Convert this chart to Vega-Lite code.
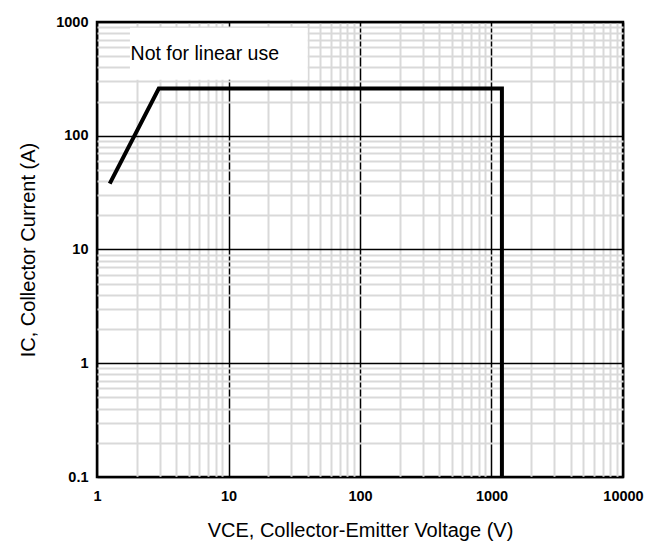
{
  "$schema": "https://vega.github.io/schema/vega-lite/v6.json",
  "width": 526,
  "height": 455,
  "autosize": "none",
  "padding": {"left": 97, "top": 22, "right": 38, "bottom": 74},
  "background": "white",
  "config": {
    "font": "Liberation Sans",
    "view": {"stroke": "black", "strokeWidth": 2.5}
  },
  "datasets": {
    "soa": [
      {"i": 1, "vce": 1.25, "ic": 38},
      {"i": 2, "vce": 2.95, "ic": 260},
      {"i": 3, "vce": 1200, "ic": 260},
      {"i": 4, "vce": 1200, "ic": 0.1}
    ],
    "note": [
      {"x1": 1.78, "x2": 40, "y1": 310, "y2": 890, "tx": 1.8, "ty": 520, "label": "Not for linear use"}
    ]
  },
  "layer": [
    {
      "data": {"name": "soa"},
      "mark": {"type": "line", "color": "black", "strokeWidth": 4, "strokeCap": "butt", "strokeJoin": "miter", "clip": true},
      "encoding": {
        "x": {
          "field": "vce", "type": "quantitative",
          "scale": {"type": "log", "domain": [1, 10000]},
          "axis": {
            "values": [1,2,3,4,5,6,7,8,9,10,20,30,40,50,60,70,80,90,100,200,300,400,500,600,700,800,900,1000,2000,3000,4000,5000,6000,7000,8000,9000,10000],
            "labelExpr": "indexof([1,10,100,1000,10000], datum.value) >= 0 ? format(datum.value, '~g') : ''",
            "grid": true,
            "gridColor": {"condition": {"test": "indexof([1,10,100,1000,10000], datum.value) >= 0", "value": "black"}, "value": "#d9d9d9"},
            "gridWidth": {"condition": {"test": "indexof([1,10,100,1000,10000], datum.value) >= 0", "value": 1.5}, "value": 2},
            "domain": false,
            "ticks": false,
            "labelFont": "Liberation Sans",
            "labelFontWeight": "bold",
            "labelFontSize": 14.5,
            "labelColor": "black",
            "labelPadding": 12,
            "labelFlush": false,
            "labelOverlap": false,
            "title": "VCE, Collector-Emitter Voltage (V)",
            "titleFont": "Liberation Sans",
            "titleFontWeight": "normal",
            "titleFontSize": 20,
            "titleColor": "black",
            "titlePadding": 18
          }
        },
        "y": {
          "field": "ic", "type": "quantitative",
          "scale": {"type": "log", "domain": [0.1, 1000]},
          "axis": {
            "values": [0.1,0.2,0.3,0.4,0.5,0.6,0.7,0.8,0.9,1,2,3,4,5,6,7,8,9,10,20,30,40,50,60,70,80,90,100,200,300,400,500,600,700,800,900,1000],
            "labelExpr": "indexof([0.1,1,10,100,1000], datum.value) >= 0 ? format(datum.value, '~g') : ''",
            "grid": true,
            "gridColor": {"condition": {"test": "indexof([0.1,1,10,100,1000], datum.value) >= 0", "value": "black"}, "value": "#d9d9d9"},
            "gridWidth": {"condition": {"test": "indexof([0.1,1,10,100,1000], datum.value) >= 0", "value": 1.5}, "value": 2},
            "domain": false,
            "ticks": false,
            "labelFont": "Liberation Sans",
            "labelFontWeight": "bold",
            "labelFontSize": 14.5,
            "labelColor": "black",
            "labelPadding": 9,
            "labelFlush": false,
            "labelOverlap": false,
            "title": "IC, Collector Current (A)",
            "titleFont": "Liberation Sans",
            "titleFontWeight": "normal",
            "titleFontSize": 20,
            "titleColor": "black",
            "titlePadding": 17
          }
        },
        "order": {"field": "i", "type": "quantitative"}
      }
    },
    {
      "data": {"name": "note"},
      "mark": {"type": "rect", "color": "white", "opacity": 1},
      "encoding": {
        "x": {"field": "x1", "type": "quantitative"},
        "x2": {"field": "x2"},
        "y": {"field": "y1", "type": "quantitative"},
        "y2": {"field": "y2"}
      }
    },
    {
      "data": {"name": "note"},
      "mark": {"type": "text", "align": "left", "baseline": "middle", "font": "Liberation Sans", "fontSize": 19.5, "color": "black"},
      "encoding": {
        "x": {"field": "tx", "type": "quantitative"},
        "y": {"field": "ty", "type": "quantitative"},
        "text": {"field": "label"}
      }
    }
  ]
}
